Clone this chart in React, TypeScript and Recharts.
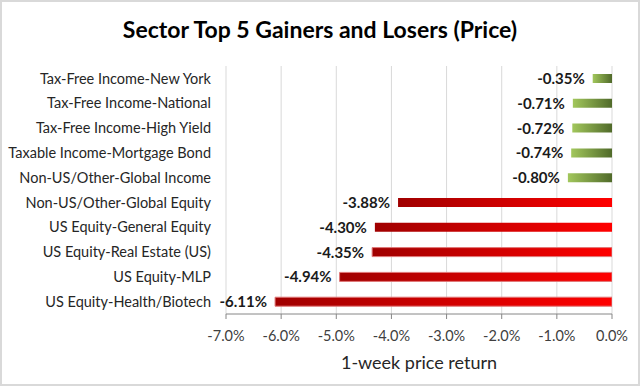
import React from "react";
import { BarChart, Bar, XAxis, YAxis, CartesianGrid, Cell, LabelList } from "recharts";

const categories = [
  "Tax-Free Income-New York",
  "Tax-Free Income-National",
  "Tax-Free Income-High Yield",
  "Taxable Income-Mortgage Bond",
  "Non-US/Other-Global Income",
  "Non-US/Other-Global Equity",
  "US Equity-General Equity",
  "US Equity-Real Estate (US)",
  "US Equity-MLP",
  "US Equity-Health/Biotech",
];
const returns = [-0.35, -0.71, -0.72, -0.74, -0.8, -3.88, -4.3, -4.35, -4.94, -6.11];
const groups = ["gain", "gain", "gain", "gain", "gain", "loss", "loss", "loss", "loss", "loss"];
const xTicks = [-7, -6, -5, -4, -3, -2, -1, 0];
const title = "Sector Top 5 Gainers and Losers (Price)";
const xTitle = "1-week price return";

const data = categories.map((name, i) => ({ name, value: returns[i], group: groups[i] }));

const FONT = "Lato, 'Open Sans', sans-serif";

const renderLabel = (props: any) => {
  const x = Number(props.x);
  const y = Number(props.y);
  const w = Number(props.width);
  const h = Number(props.height);
  const left = Math.min(x, x + w);
  return (
    <text
      x={left - 8}
      y={y + h / 2}
      dy="0.36em"
      textAnchor="end"
      fontFamily={FONT}
      fontWeight={700}
      fontSize={15}
      fill="#1a1a1a"
    >
      {Number(props.value).toFixed(2) + "%"}
    </text>
  );
};

export default function App() {
  return (
    <div style={{ position: "absolute", left: 0, top: 0, width: 640, height: 386, background: "#fff" }}>
      <BarChart
        width={640}
        height={386}
        data={data}
        layout="vertical"
        margin={{ top: 66, right: 28, left: 0, bottom: 0 }}
        barSize={9}
      >
        <defs>
          <linearGradient id="gradLoss" x1="0" y1="0" x2="1" y2="0">
            <stop offset="0%" stopColor="#a00000" />
            <stop offset="100%" stopColor="#ff0000" />
          </linearGradient>
          <linearGradient id="gradGain" x1="0" y1="0" x2="1" y2="0">
            <stop offset="0%" stopColor="#a2c75c" />
            <stop offset="100%" stopColor="#506a2a" />
          </linearGradient>
        </defs>
        <CartesianGrid horizontal={false} stroke="#d9d9d9" strokeWidth={1} />
        <XAxis
          type="number"
          domain={[-7, 0]}
          ticks={xTicks}
          tickFormatter={(v: number) => v.toFixed(1) + "%"}
          height={72}
          tickSize={5}
          tickMargin={12}
          stroke="#868686"
          axisLine={{ stroke: "#868686" }}
          tickLine={{ stroke: "#868686" }}
          tick={{ fontFamily: FONT, fontSize: 14.5, fill: "#404040" }}
          allowDataOverflow
        />
        <YAxis
          type="category"
          dataKey="name"
          width={226}
          axisLine={false}
          tickLine={false}
          tickSize={0}
          tickMargin={15}
          interval={0}
          tick={{ fontFamily: FONT, fontSize: 14.5, fill: "#262626" }}
        />
        <Bar dataKey="value" isAnimationActive={false}>
          {data.map((d, i) => (
            <Cell
              key={d.name}
              fill={d.group === "gain" ? "url(#gradGain)" : "url(#gradLoss)"}
              stroke={i >= 7 ? "#e07878" : "none"}
              strokeWidth={1}
            />
          ))}
          <LabelList dataKey="value" content={renderLabel} />
        </Bar>
      </BarChart>
      <svg
        width={640}
        height={386}
        style={{ position: "absolute", left: 0, top: 0, pointerEvents: "none" }}
      >
        <text
          x={320}
          y={38}
          textAnchor="middle"
          fontFamily={FONT}
          fontWeight={700}
          fontSize={23}
          fill="#000"
        >
          {title}
        </text>
        <text
          x={419}
          y={369}
          textAnchor="middle"
          fontFamily={FONT}
          fontSize={18}
          fill="#262626"
        >
          {xTitle}
        </text>
        <rect x={1} y={1} width={638} height={384} fill="none" stroke="#d9d9d9" strokeWidth={2} />
      </svg>
    </div>
  );
}
